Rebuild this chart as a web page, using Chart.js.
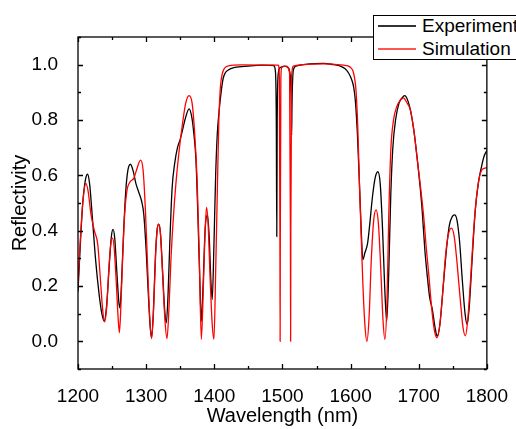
<!DOCTYPE html>
<html>
<head>
<meta charset="utf-8">
<script src="https://cdn.jsdelivr.net/npm/chart.js@4.4.1/dist/chart.umd.min.js"></script>
<style>
  html, body { margin: 0; padding: 0; background: #fff; }
  #wrap { position: relative; width: 516px; height: 429px; overflow: hidden; }
  #legend { position: absolute; left: 373px; top: 15px; width: 170px; height: 43px;
            border: 1px solid #000; background: #fff;
            font: 19px "Liberation Sans", Arial, sans-serif; color: #000; }
  .row { position: absolute; left: 0; width: 170px; height: 22px; }
  .row i { position: absolute; left: 4px; top: 10px; width: 38px; height: 0; border-top: 2px solid; }
  .row span { position: absolute; left: 48px; top: 0; line-height: 22px; white-space: nowrap; }
</style>
</head>
<body>
<div id="wrap">
  <canvas id="chart" width="516" height="429"></canvas>
  <div id="legend">
    <div class="row" style="top:-1px"><i style="border-color:#333"></i><span>Experiment</span></div>
    <div class="row" style="top:22px"><i style="border-color:#f55"></i><span>Simulation</span></div>
  </div>
</div>
<script>
// valeurs
const expWl = [1200, 1203, 1207, 1211, 1214, 1217, 1221, 1226, 1231, 1235, 1238.5, 1242, 1246, 1249, 1251.5, 1254, 1257, 1260, 1261.6,
  1264, 1267, 1270, 1273, 1277, 1281, 1285, 1289, 1293, 1296.5, 1300, 1303, 1306, 1308, 1310.5, 1313.5, 1316, 1318.5, 1321, 1324, 1327,
  1329.6, 1332, 1334.5, 1338, 1342, 1346, 1350, 1354, 1358, 1363, 1367, 1370, 1373, 1376, 1379, 1381, 1383.5, 1386.5, 1389.8, 1392.5,
  1395, 1397, 1399.5, 1402, 1404.4, 1407, 1410, 1413, 1416, 1420, 1430, 1450, 1470, 1487, 1489.5, 1491, 1491.7, 1492.3, 1494, 1497,
  1503, 1508, 1511.5, 1513, 1513.5, 1514, 1516, 1520, 1540, 1560, 1575, 1585, 1592, 1597, 1601, 1604.5, 1607, 1610, 1613, 1616, 1618,
  1621, 1625, 1628, 1632, 1636, 1640, 1643.5, 1647, 1650, 1653, 1656, 1659, 1662, 1666, 1671, 1675.5, 1679.5, 1684, 1688, 1693, 1698,
  1702, 1705, 1709, 1712.6, 1716, 1720, 1724, 1727, 1731, 1736, 1741, 1745, 1749, 1752.4, 1756, 1760, 1764, 1768, 1771, 1774, 1778,
  1783, 1788, 1792, 1796, 1800];
const expR = [0.18, 0.33, 0.5, 0.585, 0.604, 0.57, 0.45, 0.29, 0.17, 0.1, 0.073, 0.13, 0.28, 0.38, 0.405, 0.37, 0.25, 0.14, 0.121,
  0.22, 0.4, 0.54, 0.615, 0.64, 0.615, 0.57, 0.54, 0.51, 0.46, 0.33, 0.18, 0.05, 0.013, 0.1, 0.3, 0.4, 0.424, 0.39, 0.26, 0.12,
  0.067, 0.16, 0.34, 0.55, 0.645, 0.7, 0.73, 0.77, 0.81, 0.84, 0.81, 0.75, 0.66, 0.45, 0.2, 0.073, 0.2, 0.4, 0.457, 0.38,
  0.22, 0.151, 0.35, 0.6, 0.75, 0.83, 0.9, 0.95, 0.97, 0.98, 0.99, 0.995, 0.998, 0.997, 0.98, 0.8, 0.379, 0.8, 0.97, 0.99,
  0.995, 0.99, 0.96, 0.85, 0.745, 0.85, 0.98, 0.995, 1.003, 1.005, 1.0, 0.995, 0.985, 0.97, 0.95, 0.92, 0.87, 0.75, 0.57, 0.38, 0.295,
  0.32, 0.355, 0.42, 0.52, 0.59, 0.613, 0.57, 0.4, 0.2, 0.073, 0.25, 0.53, 0.7, 0.8, 0.86, 0.88, 0.888, 0.87, 0.834, 0.76, 0.655,
  0.56, 0.475, 0.33, 0.235, 0.16, 0.115, 0.05, 0.019, 0.06, 0.2, 0.34, 0.42, 0.45, 0.457, 0.44, 0.36, 0.22, 0.1, 0.061, 0.12, 0.28,
  0.475, 0.58, 0.63, 0.67, 0.69];

const simWl = [1200, 1203, 1207, 1211.6, 1215, 1219, 1224, 1229, 1233, 1236, 1239, 1242, 1245.5, 1248, 1250.5, 1253, 1256, 1259, 1260.7,
  1262.5, 1265.5, 1268.5, 1272, 1276, 1282, 1286, 1291.7, 1295.5, 1299, 1302, 1305, 1308, 1311, 1314, 1316.5, 1318.5, 1321, 1324,
  1327.5, 1330.6, 1333.5, 1336.5, 1340, 1343.7, 1348, 1353, 1358, 1363, 1367.5, 1371, 1375, 1378, 1381, 1384, 1386.5, 1388.7, 1391,
  1394, 1397, 1399.5, 1402, 1404.5, 1406.8, 1409, 1411.6, 1415, 1421, 1440, 1494, 1495.5, 1496.3, 1496.6, 1496.9, 1497.7, 1499, 1505,
  1510.5, 1511.7, 1512, 1512.3, 1513.5, 1516, 1530, 1560, 1590, 1596, 1600, 1603.4, 1606, 1608, 1610.5, 1613, 1616, 1618, 1621, 1624,
  1627, 1630.5, 1634, 1637.5, 1641, 1644.5, 1647.5, 1650.4, 1653.5, 1656, 1659, 1663, 1668, 1672.5, 1677.6, 1682, 1688, 1693, 1698,
  1703, 1707.7, 1711, 1715, 1719, 1723, 1727, 1731, 1735, 1739, 1743, 1748, 1752, 1756, 1761, 1765, 1768.5, 1772, 1776, 1779, 1783,
  1788, 1792.7, 1796, 1800];
const simR = [0.2, 0.35, 0.5, 0.571, 0.54, 0.46, 0.4, 0.35, 0.22, 0.12, 0.07, 0.12, 0.27, 0.35, 0.373, 0.34, 0.22, 0.08, 0.031,
  0.1, 0.3, 0.46, 0.547, 0.575, 0.59, 0.62, 0.655, 0.62, 0.47, 0.28, 0.1, 0.01, 0.12, 0.32, 0.41, 0.424, 0.39, 0.25,
  0.08, 0.01, 0.12, 0.3, 0.45, 0.571, 0.68, 0.78, 0.86, 0.888, 0.86, 0.76, 0.57, 0.3, 0.007, 0.2, 0.4, 0.484, 0.42,
  0.22, 0.06, 0.007, 0.25, 0.55, 0.81, 0.92, 0.966, 0.987, 0.996, 0.999, 0.998, 0.95, 0.4, 0.0, 0.4, 0.95, 0.99, 0.995,
  0.97, 0.4, 0.0, 0.4, 0.96, 0.995, 1.0, 1.003, 0.998, 0.996, 0.99, 0.978, 0.95, 0.906, 0.78, 0.57, 0.35, 0.21, 0.06, 0.0,
  0.08, 0.3, 0.44, 0.475, 0.42, 0.25, 0.08, 0.007, 0.15, 0.45, 0.69, 0.8, 0.85, 0.87, 0.88, 0.865, 0.834, 0.76, 0.655,
  0.55, 0.44, 0.34, 0.235, 0.12, 0.04, 0.013, 0.06, 0.17, 0.3, 0.38, 0.409, 0.38, 0.29, 0.15, 0.05, 0.02, 0.08, 0.22, 0.34, 0.475,
  0.58, 0.62, 0.625, 0.628];

const xTicks = [1200, 1300, 1400, 1500, 1600, 1700, 1800];
const yTicks = [0.0, 0.2, 0.4, 0.6, 0.8, 1.0];

const FONT = '"Liberation Sans", Arial, sans-serif';

// cadre + graduations vers l'intérieur, comme dans Origin
const frameTicks = {
  id: 'frameTicks',
  afterDatasetsDraw(chart) {
    const { ctx, chartArea: a, scales: { x, y } } = chart;
    ctx.save();
    ctx.strokeStyle = '#000';
    ctx.lineWidth = 1.3;
    ctx.strokeRect(a.left, a.top, a.right - a.left, a.bottom - a.top);
    ctx.beginPath();
    for (let v = 1200; v <= 1800; v += 50) {
      const px = Math.round(x.getPixelForValue(v)) + 0.5;
      const len = v % 100 === 0 ? 5 : 3;
      ctx.moveTo(px, a.bottom); ctx.lineTo(px, a.bottom - len);
      ctx.moveTo(px, a.top); ctx.lineTo(px, a.top + len);
    }
    for (let i = -1; i <= 11; i++) {
      const py = Math.round(y.getPixelForValue(i / 10)) + 0.5;
      const len = i % 2 === 0 ? 5 : 3;
      ctx.moveTo(a.left, py); ctx.lineTo(a.left + len, py);
      ctx.moveTo(a.right, py); ctx.lineTo(a.right - len, py);
    }
    ctx.stroke();
    ctx.restore();
  }
};

new Chart(document.getElementById('chart'), {
  type: 'line',
  data: {
    datasets: [
      {
        label: 'Experiment',
        data: expWl.map((w, i) => ({ x: w, y: expR[i] })),
        borderColor: '#000',
        borderWidth: 1.3,
        pointRadius: 0,
        cubicInterpolationMode: 'monotone',
        order: 2
      },
      {
        label: 'Simulation',
        data: simWl.map((w, i) => ({ x: w, y: simR[i] })),
        borderColor: '#ff0000',
        borderWidth: 1.3,
        pointRadius: 0,
        cubicInterpolationMode: 'monotone',
        order: 1
      }
    ]
  },
  options: {
    responsive: false,
    animation: false,
    layout: { padding: { top: 37, right: 26, left: 0, bottom: 0 } },
    plugins: { legend: { display: false }, tooltip: { enabled: false } },
    scales: {
      x: {
        type: 'linear',
        min: 1200, max: 1800,
        afterBuildTicks: s => { s.ticks = xTicks.map(v => ({ value: v })); },
        afterFit: s => { s.height = 60; },
        grid: { display: false },
        border: { display: false },
        ticks: { color: '#000', font: { family: FONT, size: 19 }, padding: 8, maxRotation: 0, callback: v => String(v) },
        title: { display: true, text: 'Wavelength (nm)', color: '#000', font: { family: FONT, size: 20 }, padding: { top: 4, bottom: 1 } }
      },
      y: {
        min: -0.1, max: 1.1,
        afterBuildTicks: s => { s.ticks = yTicks.map(v => ({ value: v })); },
        afterFit: s => { s.width = 78; },
        grid: { display: false },
        border: { display: false },
        ticks: { color: '#000', font: { family: FONT, size: 19 }, padding: 12, callback: v => v.toFixed(1) },
        title: { display: true, text: 'Reflectivity', color: '#000', font: { family: FONT, size: 20 }, padding: { top: 8, bottom: 4 } }
      }
    }
  },
  plugins: [frameTicks]
});
</script>
</body>
</html>
